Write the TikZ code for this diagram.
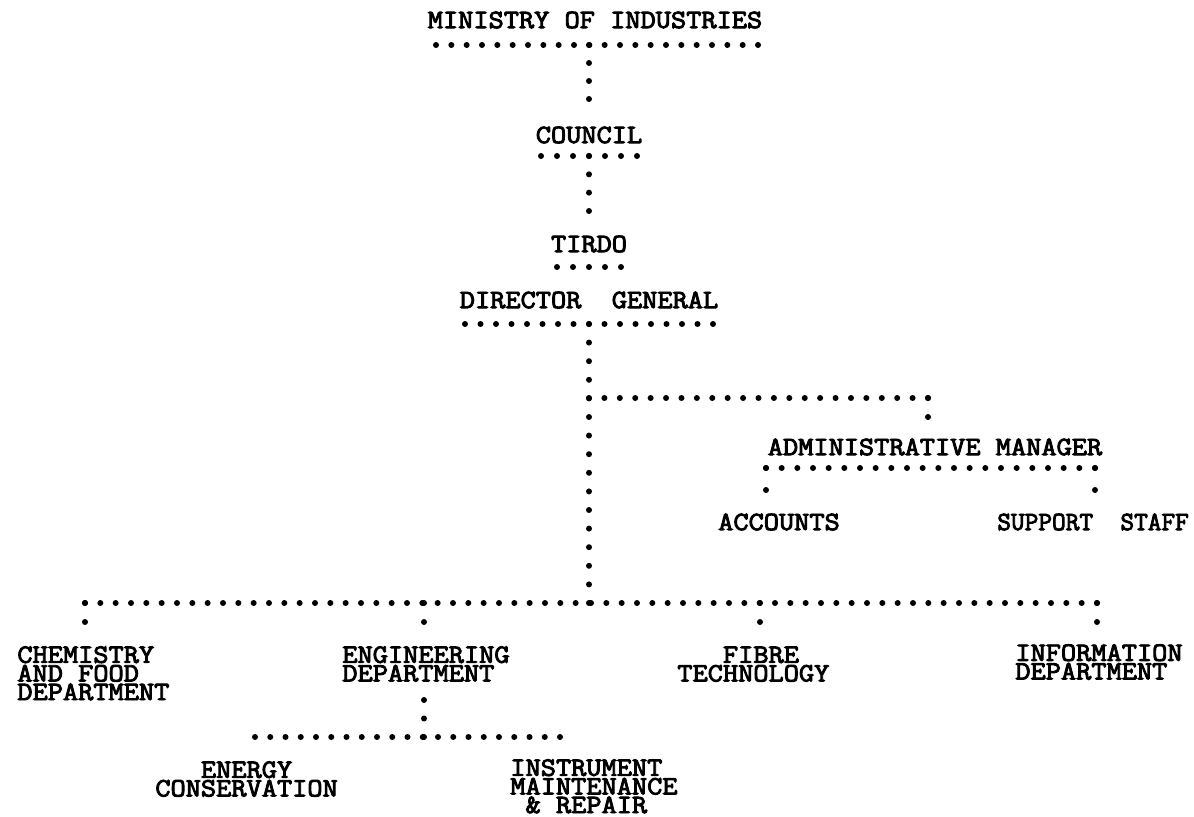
\documentclass[tikz,border=0pt]{standalone}
\usepackage{fontspec}
\setmonofont{Latin Modern Mono}[FakeBold=3.5,FakeStretch=1.12]
\usetikzlibrary{decorations}

\begin{document}
\begin{tikzpicture}[x=0.02cm,y=-0.02cm,
  lbl/.style={font=\fontsize{15}{10.6}\selectfont\ttfamily,inner sep=0pt},
  hdots/.style={line width=0.12cm,line cap=round,dash pattern=on 0pt off 8.6pt,dash expand off},
  vdots/.style={line width=0.12cm,line cap=round,dash pattern=on 0pt off 10.2pt,dash expand off}]
\useasboundingbox (0,0) rectangle (1194,817);

% titles
\node[lbl] (min) at (595,20) {MINISTRY OF INDUSTRIES};
\node[lbl] (council) at (589,135) {COUNCIL};
\node[lbl] (tirdo) at (589,244) {TIRDO};
\node[lbl] (dg) at (589,300) {DIRECTOR~~GENERAL};
\node[lbl] (adm) at (935,447) {ADMINISTRATIVE MANAGER};
\node[lbl] (acc) at (779,522) {ACCOUNTS};
\node[lbl,anchor=west,transform shape,xscale=0.9] (sup) at (997,522) {SUPPORT~~STAFF};

% departments
\node[lbl,anchor=north west,align=left] (chem) at (17,646) {CHEMISTRY\\AND FOOD\\DEPARTMENT};
\node[lbl,anchor=north west,align=left] (eng) at (342,646) {ENGINEERING\\DEPARTMENT};
\node[lbl,anchor=north west,align=left] (fib) at (677,646) {\phantom{TEC}FIBRE\\TECHNOLOGY};
\node[lbl,anchor=north west,align=left] (info) at (1015,644) {INFORMATION\\DEPARTMENT};
\node[lbl,anchor=north west,align=left] (energy) at (155,761) {\phantom{CON}ENERGY\\CONSERVATION};
\node[lbl,anchor=north west,align=left] (instr) at (510,759) {INSTRUMENT\\MAINTENANCE\\\phantom{M}\& REPAIR};

% junctions
\coordinate (minbar) at (589,45);
\coordinate (cncltop) at (589,99);
\coordinate (cnclbar) at (589,156);
\coordinate (tirdotop) at (589,211);
\coordinate (dgbar) at (589,324);
\coordinate (admturn) at (589,398);
\coordinate (admcorner) at (928,398);
\coordinate (admtop) at (928,417);
\coordinate (deptbar) at (589,603);
\coordinate (accbar) at (766,468);
\coordinate (supbar) at (1095,468);
\coordinate (accdrop) at (766,490);
\coordinate (supdrop) at (1095,490);
\coordinate (engtop) at (424,700);
\coordinate (engbar) at (424,737);

% underlines
\draw[hdots] (436,45) -- (758,45);
\draw[hdots] (541,156) -- (637,156);
\draw[hdots] (557,267) -- (621,267);
\draw[hdots] (465,324) -- (713,324);
\draw[hdots] (accbar) -- (supbar);

% connectors
\draw[vdots] (minbar) -- (cncltop);
\draw[vdots] (cnclbar) -- (tirdotop);
\draw[vdots] (dgbar) -- (deptbar);
\draw[hdots] (admturn) -- (admcorner);
\draw[vdots] (admcorner) -- (admtop);
\draw[vdots] (accbar) -- (accdrop);
\draw[vdots] (supbar) -- (supdrop);

\draw[hdots] (85,603) -- (1097,603);
\foreach \x in {85,424,760,1097}
  \draw[vdots] (\x,603) -- (\x,622);

\draw[vdots] (engtop) -- (engbar);
\draw[hdots] (255,737) -- (560,737);
\end{tikzpicture}
\end{document}
